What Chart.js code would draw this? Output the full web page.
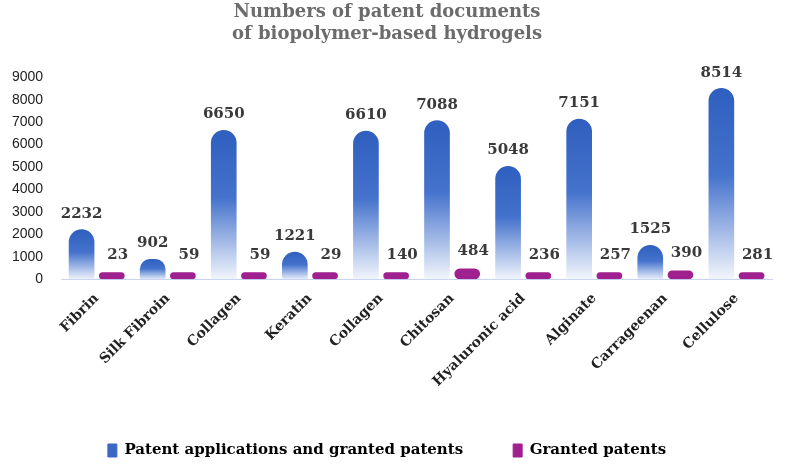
<!DOCTYPE html>
<html><head><meta charset="utf-8">
<script src="https://cdn.jsdelivr.net/npm/chart.js@4"></script>
<style>html,body{margin:0;background:#fff}#w{width:797px;height:468px}</style>
</head><body><div id="w"><canvas id="c"></canvas></div>
<script>
const categories=["Fibrin","Silk Fibroin","Collagen","Keratin","Collagen","Chitosan","Hyaluronic acid","Alginate","Carrageenan","Cellulose"];
const applications=[2232,902,6650,1221,6610,7088,5048,7151,1525,8514];
const granted=[23,59,59,29,140,484,236,257,390,281];
const yTicks=[0,1000,2000,3000,4000,5000,6000,7000,8000,9000];
function barGrad(c){
  const ch=c.chart,area=ch.chartArea;if(!area||c.parsed===undefined)return '#3a68c4';
  const top=ch.scales.y.getPixelForValue(c.parsed.y),bot=ch.scales.y.getPixelForValue(0);
  const g=ch.ctx.createLinearGradient(0,top,0,bot+1);
  g.addColorStop(0,'#2f5fbf');g.addColorStop(0.45,'#4472cc');g.addColorStop(1,'#f4f7fd');return g;
}
const labelsPlugin={id:'lbl',afterDatasetsDraw(chart){
  const ctx=chart.ctx;ctx.save();ctx.font='bold 15px "DejaVu Serif", serif';ctx.fillStyle='#3a3a3a';ctx.textAlign='center';ctx.textBaseline='bottom';
  chart.data.datasets.forEach((ds,i)=>{chart.getDatasetMeta(i).data.forEach((b,j)=>{
    let y=b.y-8; if(i===1) y=Math.min(b.y-10,chart.scales.y.getPixelForValue(0)-14);
    ctx.fillText(ds.data[j],b.x+(i===1?6:0),y);});});
  ctx.restore();}};
new Chart(document.getElementById('c'),{type:'bar',
data:{labels:categories,datasets:[
 {label:'Patent applications and granted patents',data:applications,
  backgroundColor:barGrad,borderRadius:{topLeft:14,topRight:14},borderSkipped:false,barPercentage:0.85,categoryPercentage:0.85},
 {label:'Granted patents',data:granted,backgroundColor:'#a0208f',borderRadius:10,borderSkipped:false,barPercentage:0.85,categoryPercentage:0.85,minBarLength:7}]},
options:{responsive:true,maintainAspectRatio:false,animation:false,
 layout:{padding:{left:2,right:25,top:0,bottom:0}},
 plugins:{title:{display:true,text:['Numbers of patent documents','of biopolymer-based hydrogels'],color:'#6b6b6b',font:{family:'"DejaVu Serif", serif',size:18,weight:'bold'},lineHeight:1.4,padding:{top:2,bottom:32}},
  legend:{position:'bottom',labels:{color:'#111',font:{family:'"DejaVu Serif", serif',size:15,weight:'bold'},boxWidth:9,boxHeight:13,padding:50,
   generateLabels:ch=>[{text:'Patent applications and granted patents',fillStyle:'#3a68c4',strokeStyle:'#3a68c4',datasetIndex:0},{text:'Granted patents',fillStyle:'#a0208f',strokeStyle:'#a0208f',datasetIndex:1}]}},
  tooltip:{enabled:false}},
 scales:{x:{grid:{display:false},border:{color:'#c8d4ee'},ticks:{color:'#222',maxRotation:45,minRotation:45,font:{family:'"DejaVu Serif", serif',size:14,weight:'bold'}}},
  y:{min:0,max:9000,afterBuildTicks:a=>{a.ticks=yTicks.map(v=>({value:v}));},grid:{display:false},border:{display:false},ticks:{color:'#222',padding:10,callback:v=>String(v),font:{family:'"Liberation Sans", sans-serif',size:14}}}}},
plugins:[labelsPlugin]});
</script></body></html>
